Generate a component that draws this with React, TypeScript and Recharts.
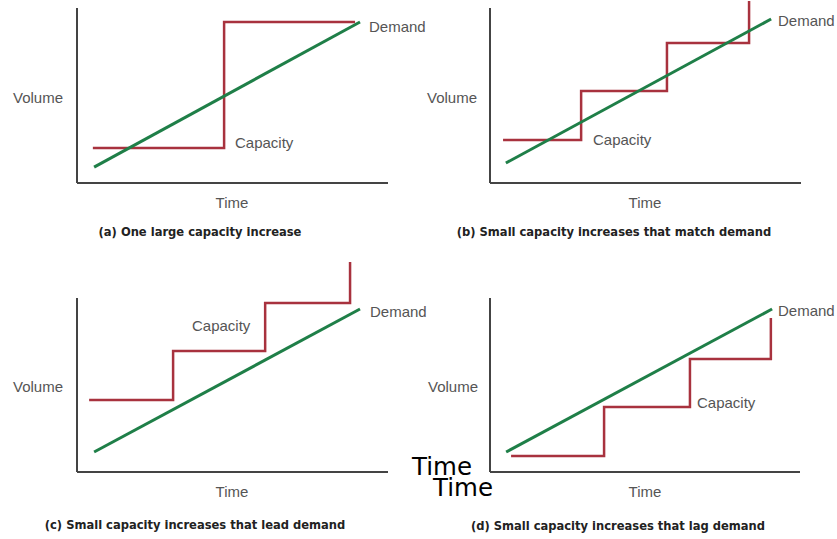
import React from "react";
import { LineChart, Line, XAxis, YAxis, ReferenceLine } from "recharts";

// ---- data (time units 0-100, volume units 0-100 within each panel) ----
const demandA = [{ t: 5.5, v: 8.7 }, { t: 91.0, v: 88.0 }];
const capacityA = [
  { t: 5.1, v: 19.1 }, { t: 47.3, v: 19.1 }, { t: 47.3, v: 88.0 }, { t: 89.4, v: 88.0 },
];
const demandB = [{ t: 5.1, v: 10.9 }, { t: 90.4, v: 89.6 }];
const capacityB = [
  { t: 4.2, v: 23.5 }, { t: 29.3, v: 23.5 }, { t: 29.3, v: 50.3 }, { t: 56.9, v: 50.3 },
  { t: 56.9, v: 76.5 }, { t: 83.3, v: 76.5 }, { t: 83.3, v: 99.5 },
];
const demandC = [{ t: 5.5, v: 9.2 }, { t: 91.0, v: 75.1 }];
const capacityC = [
  { t: 3.9, v: 33.2 }, { t: 30.9, v: 33.2 }, { t: 30.9, v: 55.8 }, { t: 60.5, v: 55.8 },
  { t: 60.5, v: 77.9 }, { t: 87.8, v: 77.9 }, { t: 87.8, v: 96.8 },
];
const demandD = [{ t: 5.2, v: 9.2 }, { t: 91.0, v: 75.1 }];
const capacityD = [
  { t: 6.8, v: 7.4 }, { t: 36.8, v: 7.4 }, { t: 36.8, v: 30.0 }, { t: 64.5, v: 30.0 },
  { t: 64.5, v: 52.1 }, { t: 90.6, v: 52.1 }, { t: 90.6, v: 71.0 },
];
const captions = [
  "(a) One large capacity increase",
  "(b) Small capacity increases that match demand",
  "(c) Small capacity increases that lead demand",
  "(d) Small capacity increases that lag demand",
];
const axisTopValues = [95.6, 95.6, 80.2, 80.2];

const GREEN = "#1f7f48";
const RED = "#a8323e";
const AXIS = "#444";
const LABEL = "#555";
const M = 6;

type Pt = { t: number; v: number };

function Panel(props: {
  left: number; top: number; width: number; height: number;
  demand: Pt[]; capacity: Pt[]; axisTop: number;
}) {
  const { left, top, width, height, demand, capacity, axisTop } = props;
  return (
    <div style={{ position: "absolute", left: left - M, top: top - M }}>
      <LineChart width={width + 2 * M} height={height + 2 * M} margin={{ top: M, right: M, bottom: M, left: M }}>
        <XAxis type="number" dataKey="t" domain={[0, 100]} hide allowDataOverflow />
        <YAxis type="number" dataKey="v" domain={[0, 100]} hide />
        <ReferenceLine segment={[{ x: 0, y: 0 }, { x: 0, y: axisTop }]} stroke={AXIS} strokeWidth={2} ifOverflow="visible" />
        <ReferenceLine segment={[{ x: 0, y: 0 }, { x: 100, y: 0 }]} stroke={AXIS} strokeWidth={2} ifOverflow="visible" />
        <Line data={capacity} dataKey="v" type="linear" stroke={RED} strokeWidth={2.5} dot={false} isAnimationActive={false} />
        <Line data={demand} dataKey="v" type="linear" stroke={GREEN} strokeWidth={3} dot={false} isAnimationActive={false} />
      </LineChart>
    </div>
  );
}

function T(props: { x: number; y: number; children: React.ReactNode; center?: boolean; size?: number; bold?: boolean; color?: string; family?: string }) {
  const size = props.size ?? 15;
  return (
    <div
      style={{
        position: "absolute",
        left: props.x,
        top: props.y - size / 2,
        transform: props.center ? "translateX(-50%)" : undefined,
        fontSize: size,
        lineHeight: `${size}px`,
        whiteSpace: "nowrap",
        color: props.color ?? LABEL,
        fontWeight: props.bold ? 700 : 400,
        fontFamily: props.family ?? "'Liberation Sans', Arial, sans-serif",
      }}
    >
      {props.children}
    </div>
  );
}

const CAP_FONT = "'DejaVu Sans Condensed', 'DejaVu Sans', sans-serif";
const CAP_SIZE = 12.8;

export default function App() {
  return (
    <div style={{ position: "absolute", left: 0, top: 0, width: 837, height: 539, background: "#fff", overflow: "hidden" }}>
      <Panel left={77} top={0} width={311} height={183} demand={demandA} capacity={capacityA} axisTop={axisTopValues[0]} />
      <Panel left={490} top={0} width={311} height={183} demand={demandB} capacity={capacityB} axisTop={axisTopValues[1]} />
      <Panel left={77} top={255} width={311} height={217} demand={demandC} capacity={capacityC} axisTop={axisTopValues[2]} />
      <Panel left={490} top={255} width={310} height={217} demand={demandD} capacity={capacityD} axisTop={axisTopValues[3]} />

      {/* panel a */}
      <T x={13} y={97}>Volume</T>
      <T x={369} y={26}>Demand</T>
      <T x={235} y={142}>Capacity</T>
      <T x={232} y={202} center>Time</T>
      <T x={200} y={232} center bold size={CAP_SIZE} color="#222" family={CAP_FONT}>{captions[0]}</T>

      {/* panel b */}
      <T x={427} y={97}>Volume</T>
      <T x={778} y={20}>Demand</T>
      <T x={593} y={139}>Capacity</T>
      <T x={645} y={202} center>Time</T>
      <T x={614} y={232} center bold size={CAP_SIZE} color="#222" family={CAP_FONT}>{captions[1]}</T>

      {/* panel c */}
      <T x={13} y={386}>Volume</T>
      <T x={192} y={325}>Capacity</T>
      <T x={370} y={311}>Demand</T>
      <T x={232} y={491} center>Time</T>
      <T x={195} y={525} center bold size={CAP_SIZE} color="#222" family={CAP_FONT}>{captions[2]}</T>

      {/* panel d */}
      <T x={428} y={386}>Volume</T>
      <T x={697} y={402}>Capacity</T>
      <T x={778} y={310}>Demand</T>
      <T x={645} y={491} center>Time</T>
      <T x={618} y={526} center bold size={CAP_SIZE} color="#222" family={CAP_FONT}>{captions[3]}</T>

      {/* stray labels */}
      <T x={412} y={467} size={24.5} color="#000" family="'DejaVu Sans', sans-serif">Time</T>
      <T x={433} y={488} size={24.5} color="#000" family="'DejaVu Sans', sans-serif">Time</T>
    </div>
  );
}
